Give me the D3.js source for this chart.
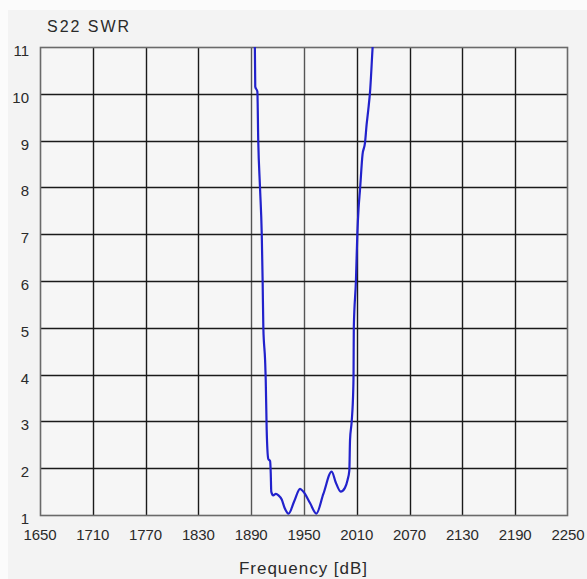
<!DOCTYPE html>
<html>
<head>
<meta charset="utf-8">
<script src="https://cdn.jsdelivr.net/npm/d3@7"></script>
<style>
html,body{margin:0;padding:0;background:#fbfbfb;}
svg{display:block;}
text{font-family:"Liberation Sans",Arial,sans-serif;fill:#2a2a2a;}
</style>
</head>
<body>
<svg id="chart" width="587" height="579"></svg>
<script>
const title = "S22 SWR";
const xLabel = "Frequency [dB]";
const xTicks = [1650, 1710, 1770, 1830, 1890, 1950, 2010, 2070, 2130, 2190, 2250];
const yTicks = [1, 2, 3, 4, 5, 6, 7, 8, 9, 10, 11];
// S22 SWR trace: frequency (MHz) and SWR
const freq = [1894.0, 1894.6, 1897.0, 1898.0, 1900.0, 1902.0, 1903.0, 1903.8, 1905.8, 1906.5, 1907.6, 1909.4, 1911.5, 1912.2, 1912.8,
              1915.0, 1918.0, 1921.0, 1924.7, 1928.0, 1932.5, 1939.0, 1945.5, 1949.2, 1957.0, 1964.0, 1972.0, 1981.5, 1986.0, 1991.7, 1996.5, 1999.5, 2001.5, 2002.3,
              2004.2, 2006.0, 2006.3, 2006.6, 2009.0, 2010.6, 2012.0, 2013.6, 2016.5, 2019.3, 2021.2, 2023.0, 2025.2, 2028.0, 2029.0];
const swr  = [11.3, 10.15, 10.05, 9.0, 8.0, 7.0, 6.0, 5.0, 4.3, 3.9, 2.82, 2.2, 2.15, 1.9, 1.5,
              1.42, 1.45, 1.42, 1.33, 1.15, 1.03, 1.3, 1.56, 1.5, 1.25, 1.03, 1.45, 1.93, 1.7, 1.5, 1.58, 1.75, 1.95, 2.6,
              3.0, 3.7, 4.0, 5.0, 6.0, 7.0, 7.55, 7.94, 8.7, 8.95, 9.35, 9.65, 10.08, 11.0, 11.3];

const svg = d3.select("#chart");
const W = 587, H = 579;
const m = {left: 40, top: 47, right: 568, bottom: 515};

svg.append("rect").attr("x", 8).attr("y", 10).attr("width", W - 8).attr("height", H - 10).attr("fill", "#f3f3f3");

const x = d3.scaleLinear().domain([1650, 2250]).range([m.left, m.right]);
const y = d3.scaleLinear().domain([1, 11]).range([m.bottom, m.top]);

svg.append("rect").attr("x", m.left).attr("y", m.top)
  .attr("width", m.right - m.left).attr("height", m.bottom - m.top)
  .attr("fill", "#f6f6f6");

// grid lines
const g = svg.append("g");
g.selectAll("line.v").data(xTicks.slice(1, -1)).join("line")
  .attr("x1", d => Math.round(x(d)) + 0.5).attr("x2", d => Math.round(x(d)) + 0.5)
  .attr("y1", m.top).attr("y2", m.bottom)
  .attr("stroke", d => (d === 1890 || d === 1950) ? "#555" : "#1a1a1a").attr("stroke-width", 1.4);
g.selectAll("line.h").data(yTicks.slice(1, -1)).join("line")
  .attr("y1", d => Math.round(y(d)) + 0.5).attr("y2", d => Math.round(y(d)) + 0.5)
  .attr("x1", m.left).attr("x2", m.right)
  .attr("stroke", "#1a1a1a").attr("stroke-width", 1.4);
// frame
svg.append("rect").attr("x", m.left + 0.5).attr("y", m.top + 0.5)
  .attr("width", m.right - m.left - 1).attr("height", m.bottom - m.top)
  .attr("fill", "none").attr("stroke", "#6a6a6a").attr("stroke-width", 1.6);

// clip
svg.append("clipPath").attr("id", "clip").append("rect")
  .attr("x", m.left).attr("y", m.top).attr("width", m.right - m.left).attr("height", m.bottom - m.top);

const data = freq.map((f, i) => [f, swr[i]]);
const line = d3.line().x(d => x(d[0])).y(d => y(d[1])).curve(d3.curveMonotoneX);
svg.append("path").datum(data)
  .attr("clip-path", "url(#clip)")
  .attr("d", line).attr("fill", "none")
  .attr("stroke", "#2222cc").attr("stroke-width", 2.2).attr("stroke-linejoin", "round");

// axis labels
svg.append("g").selectAll("text").data(yTicks).join("text")
  .attr("x", 29).attr("y", d => y(d) + 9)
  .attr("text-anchor", "end").attr("font-size", 15)
  .text(d => d);

svg.append("g").selectAll("text").data(xTicks).join("text")
  .attr("x", d => x(d)).attr("y", 540)
  .attr("text-anchor", "middle").attr("font-size", 15)
  .attr("textLength", 33).attr("lengthAdjust", "spacing")
  .text(d => d);

svg.append("text").attr("x", 303).attr("y", 574)
  .attr("text-anchor", "middle").attr("font-size", 17)
  .attr("textLength", 128).attr("lengthAdjust", "spacing")
  .text(xLabel);

svg.append("text").attr("x", 47).attr("y", 32)
  .attr("font-size", 16)
  .attr("textLength", 82).attr("lengthAdjust", "spacing")
  .text(title);
</script>
</body>
</html>
